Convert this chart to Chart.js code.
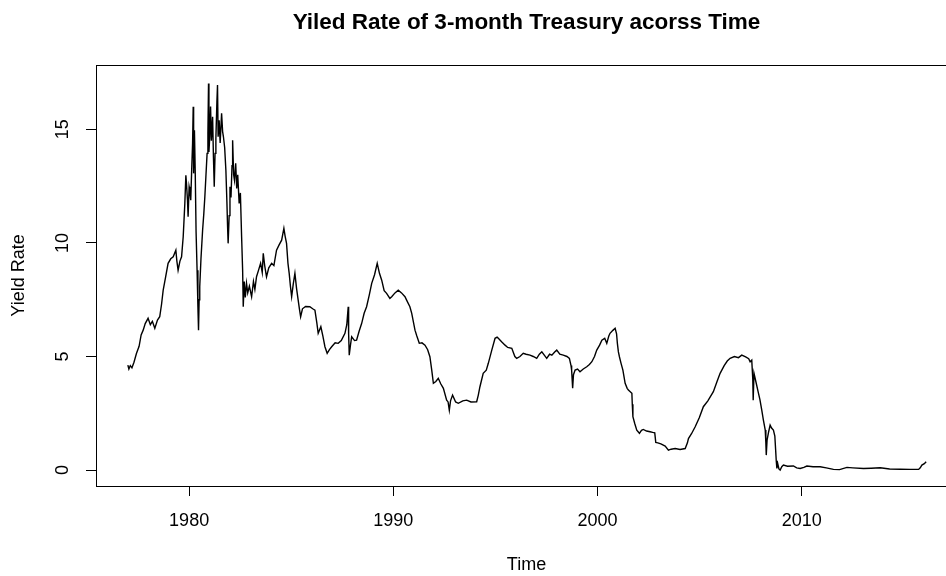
<!DOCTYPE html>
<html>
<head>
<meta charset="utf-8">
<title>Yiled Rate of 3-month Treasury acorss Time</title>
<script src="https://cdn.jsdelivr.net/npm/chart.js@4"></script>
<style>
  html, body { margin: 0; padding: 0; background: #fff; overflow: hidden; }
  canvas { display: block; }
</style>
</head>
<body>
<canvas id="chart" width="960" height="576"></canvas>
<script>
// time in decimal years
const years = [
  1977.00, 1977.05, 1977.12, 1977.20, 1977.30, 1977.42, 1977.55, 1977.65, 1977.75, 1977.85,
  1977.99, 1978.10, 1978.20, 1978.32, 1978.45, 1978.56, 1978.65, 1978.73, 1978.85, 1978.97,
  1979.10, 1979.22, 1979.35, 1979.40, 1979.46, 1979.55, 1979.63, 1979.71, 1979.79, 1979.84,
  1979.87, 1979.92, 1979.95, 1980.00, 1980.03, 1980.08, 1980.12, 1980.17, 1980.20, 1980.22,
  1980.26, 1980.30, 1980.34, 1980.39, 1980.43, 1980.46, 1980.49, 1980.52, 1980.58, 1980.66,
  1980.72, 1980.77, 1980.82, 1980.88, 1980.92, 1980.95, 1980.97, 1981.01, 1981.05, 1981.09,
  1981.15, 1981.19, 1981.23, 1981.27, 1981.31, 1981.36, 1981.39, 1981.42, 1981.47, 1981.52,
  1981.59, 1981.64, 1981.68, 1981.74, 1981.80, 1981.85, 1981.88, 1981.91, 1981.96, 1982.00,
  1982.05, 1982.10, 1982.13, 1982.18, 1982.22, 1982.28, 1982.33, 1982.38, 1982.45, 1982.51,
  1982.57, 1982.62, 1982.65, 1982.70, 1982.75, 1982.81, 1982.87, 1982.95, 1983.06, 1983.15,
  1983.22, 1983.30, 1983.40, 1983.50, 1983.58, 1983.63, 1983.70, 1983.79, 1983.90, 1984.04,
  1984.15, 1984.28, 1984.40, 1984.53, 1984.64, 1984.70, 1984.77, 1984.84, 1984.90, 1984.96,
  1985.02, 1985.10, 1985.18, 1985.26, 1985.34, 1985.40, 1985.46, 1985.55, 1985.70, 1985.91,
  1986.05, 1986.16, 1986.25, 1986.32, 1986.45, 1986.55, 1986.65, 1986.76, 1986.87, 1986.98,
  1987.15, 1987.30, 1987.45, 1987.63, 1987.72, 1987.79, 1987.81, 1987.84, 1987.90, 1987.96,
  1988.10, 1988.20, 1988.32, 1988.45, 1988.57, 1988.69, 1988.82, 1988.94, 1989.08, 1989.21,
  1989.32, 1989.43, 1989.55, 1989.67, 1989.83, 1989.92, 1990.08, 1990.24, 1990.40, 1990.57,
  1990.65, 1990.81, 1990.90, 1991.06, 1991.15, 1991.27, 1991.40, 1991.55, 1991.68, 1991.79,
  1991.88, 1991.96, 1992.08, 1992.20, 1992.32, 1992.45, 1992.61, 1992.68, 1992.74, 1992.80,
  1992.90, 1993.05, 1993.18, 1993.40, 1993.59, 1993.80, 1994.08, 1994.16, 1994.24, 1994.40,
  1994.55, 1994.65, 1994.82, 1994.98, 1995.08, 1995.14, 1995.30, 1995.47, 1995.60, 1995.80,
  1995.95, 1996.04, 1996.20, 1996.36, 1996.50, 1996.69, 1996.85, 1997.02, 1997.15, 1997.27,
  1997.40, 1997.51, 1997.65, 1997.76, 1997.90, 1998.00, 1998.15, 1998.32, 1998.50, 1998.62,
  1998.70, 1998.73, 1998.78, 1998.82, 1998.90, 1999.02, 1999.14, 1999.30, 1999.47, 1999.60,
  1999.72, 1999.85, 1999.96, 2000.10, 2000.21, 2000.35, 2000.45, 2000.55, 2000.61, 2000.75,
  2000.86, 2000.93, 2000.97, 2001.02, 2001.07, 2001.15, 2001.24, 2001.35, 2001.45, 2001.51,
  2001.60, 2001.68, 2001.70, 2001.73, 2001.82, 2001.92, 2002.05, 2002.15, 2002.24, 2002.40,
  2002.57, 2002.70, 2002.80, 2002.85, 2002.95, 2003.10, 2003.31, 2003.47, 2003.60, 2003.80,
  2004.04, 2004.29, 2004.40, 2004.45, 2004.60, 2004.78, 2004.98, 2005.18, 2005.40, 2005.67,
  2005.85, 2006.00, 2006.20, 2006.35, 2006.49, 2006.70, 2006.90, 2007.06, 2007.25, 2007.40,
  2007.47, 2007.55, 2007.60, 2007.62, 2007.66, 2007.75, 2007.88, 2007.95, 2008.04, 2008.12,
  2008.21, 2008.24, 2008.26, 2008.30, 2008.38, 2008.45, 2008.52, 2008.61, 2008.68, 2008.72,
  2008.75, 2008.78, 2008.82, 2008.88, 2008.94, 2009.02, 2009.10, 2009.30, 2009.59, 2009.75,
  2009.92, 2010.10, 2010.25, 2010.55, 2010.90, 2011.20, 2011.55, 2011.85, 2012.21, 2012.50,
  2013.02, 2013.40, 2013.84, 2014.30, 2014.82, 2015.30, 2015.72, 2015.80, 2015.88, 2016.00,
  2016.09
];

// 3-month treasury yield (%)
const rates = [
  4.62, 4.45, 4.60, 4.50, 4.75, 5.13, 5.45, 5.95, 6.16, 6.45,
  6.68, 6.40, 6.55, 6.24, 6.60, 6.75, 7.30, 7.92, 8.50, 9.10,
  9.30, 9.39, 9.68, 9.20, 8.80, 9.20, 9.39, 10.27, 11.74, 12.98,
  12.62, 11.88, 11.15, 12.47, 12.32, 11.88, 13.06, 14.40, 15.99, 13.06,
  14.96, 13.06, 10.50, 8.80, 7.20, 6.16, 7.50, 8.07, 9.30, 10.56,
  11.30, 12.03, 12.90, 13.94, 14.80, 17.02, 14.00, 14.67, 16.00, 14.50,
  15.55, 13.80, 12.47, 13.94, 14.60, 16.20, 16.95, 14.67, 15.40, 14.40,
  15.70, 14.90, 14.67, 14.20, 13.20, 11.80, 10.80, 9.98, 11.20, 12.47,
  12.00, 13.40, 14.52, 13.00, 12.76, 13.50, 12.40, 13.00, 11.74, 12.20,
  10.27, 8.80, 7.19, 8.30, 7.60, 8.22, 7.80, 8.10, 7.63, 8.30,
  7.95, 8.51, 8.80, 9.10, 8.70, 9.54, 9.00, 8.51, 8.90, 9.10,
  9.00, 9.68, 9.90, 10.12, 10.64, 10.30, 9.98, 9.10, 8.66, 8.10,
  7.63, 8.20, 8.66, 8.00, 7.48, 7.10, 6.75, 7.10, 7.20, 7.19,
  7.10, 7.04, 6.50, 6.02, 6.31, 5.90, 5.43, 5.14, 5.30, 5.43,
  5.60, 5.58, 5.70, 6.02, 6.40, 7.19, 6.00, 5.06, 5.50, 5.87,
  5.70, 5.72, 6.10, 6.46, 6.90, 7.19, 7.70, 8.22, 8.60, 9.10,
  8.66, 8.36, 7.90, 7.78, 7.56, 7.63, 7.80, 7.92, 7.80, 7.63,
  7.48, 7.19, 6.90, 6.16, 5.90, 5.58, 5.60, 5.50, 5.30, 4.99,
  4.40, 3.82, 3.90, 4.04, 3.80, 3.60, 3.08, 3.00, 2.64, 3.05,
  3.30, 3.00, 2.94, 3.05, 3.08, 3.00, 3.01, 3.30, 3.67, 4.26,
  4.40, 4.70, 5.28, 5.80, 5.85, 5.80, 5.65, 5.50, 5.40, 5.36,
  5.00, 4.92, 5.00, 5.14, 5.10, 5.06, 5.00, 4.92, 5.10, 5.21,
  5.05, 4.92, 5.10, 5.06, 5.20, 5.28, 5.10, 5.06, 5.00, 4.92,
  4.60, 4.40, 3.60, 4.20, 4.40, 4.45, 4.33, 4.45, 4.55, 4.65,
  4.77, 5.00, 5.28, 5.50, 5.72, 5.80, 5.58, 5.90, 6.02, 6.15,
  6.24, 6.00, 5.58, 5.20, 4.99, 4.70, 4.40, 3.82, 3.60, 3.52,
  3.45, 3.38, 2.90, 2.35, 2.05, 1.76, 1.62, 1.75, 1.79, 1.72,
  1.69, 1.66, 1.64, 1.22, 1.20, 1.15, 1.06, 0.88, 0.92, 0.95,
  0.91, 0.95, 1.20, 1.39, 1.60, 1.91, 2.30, 2.79, 3.05, 3.45,
  3.90, 4.26, 4.60, 4.80, 4.92, 5.00, 4.95, 5.06, 4.98, 4.90,
  4.77, 4.84, 4.00, 3.08, 4.26, 3.90, 3.38, 3.10, 2.64, 2.20,
  1.76, 1.20, 0.66, 1.32, 1.70, 1.98, 1.85, 1.76, 1.50, 0.88,
  0.40, 0.07, 0.29, 0.05, 0.00, 0.15, 0.22, 0.17, 0.18, 0.10,
  0.07, 0.12, 0.18, 0.15, 0.15, 0.10, 0.03, 0.02, 0.12, 0.10,
  0.07, 0.08, 0.10, 0.05, 0.04, 0.03, 0.03, 0.10, 0.22, 0.28,
  0.37
];

const xTicks = [1980, 1990, 2000, 2010];
const yTicks = [0, 5, 10, 15];

const fontFamily = "'Liberation Sans', Arial, Helvetica, sans-serif";

// R style box round the plot region
const boxPlugin = {
  id: 'box',
  afterDraw(chart) {
    const { ctx, chartArea } = chart;
    ctx.save();
    ctx.strokeStyle = '#000';
    ctx.lineWidth = 1;
    ctx.strokeRect(chartArea.left + 0.5, chartArea.top + 0.5,
      chartArea.right - chartArea.left, chartArea.bottom - chartArea.top);
    ctx.restore();
  }
};

new Chart(document.getElementById('chart'), {
  type: 'line',
  data: {
    datasets: [{
      data: years.map((y, i) => ({ x: y, y: rates[i] })),
      borderColor: '#000',
      borderWidth: 1.4,
      pointRadius: 0,
      tension: 0,
      fill: false
    }]
  },
  options: {
    responsive: false,
    animation: false,
    layout: { padding: { left: 0, right: 3, top: 0, bottom: 0 } },
    plugins: {
      legend: { display: false },
      tooltip: { enabled: false },
      title: {
        display: true,
        fullSize: false,
        text: 'Yiled Rate of 3-month Treasury acorss Time',
        color: '#000',
        font: { family: fontFamily, size: 22.5, weight: 'bold' },
        padding: { top: 9, bottom: 29 }
      }
    },
    scales: {
      x: {
        type: 'linear',
        min: 1975.44,
        max: 2017.6,
        afterBuildTicks(scale) { scale.ticks = xTicks.map(v => ({ value: v })); },
        afterFit(scale) { scale.height = 90; },
        grid: { display: true, drawOnChartArea: false, drawTicks: true, tickLength: 10, color: '#000' },
        border: { display: false },
        ticks: {
          color: '#000',
          font: { family: fontFamily, size: 18 },
          padding: 14,
          maxRotation: 0,
          autoSkip: false,
          callback: (v) => String(v)
        },
        title: {
          display: true,
          text: 'Time',
          color: '#000',
          font: { family: fontFamily, size: 18 },
          padding: { top: 0, bottom: 0 }
        }
      },
      y: {
        type: 'linear',
        min: -0.70,
        max: 17.83,
        afterBuildTicks(scale) { scale.ticks = yTicks.map(v => ({ value: v })); },
        afterFit(scale) { scale.width = 96; },
        grid: { display: true, drawOnChartArea: false, drawTicks: true, tickLength: 10, color: '#000' },
        border: { display: false },
        ticks: {
          color: '#000',
          font: { family: fontFamily, size: 18 },
          minRotation: 90,
          maxRotation: 90,
          crossAlign: 'center',
          padding: 13,
          autoSkip: false,
          callback: (v) => String(v)
        },
        title: {
          display: true,
          text: 'Yield Rate',
          color: '#000',
          font: { family: fontFamily, size: 18 },
          padding: { top: 8, bottom: 0 }
        }
      }
    }
  },
  plugins: [boxPlugin]
});
</script>
</body>
</html>
